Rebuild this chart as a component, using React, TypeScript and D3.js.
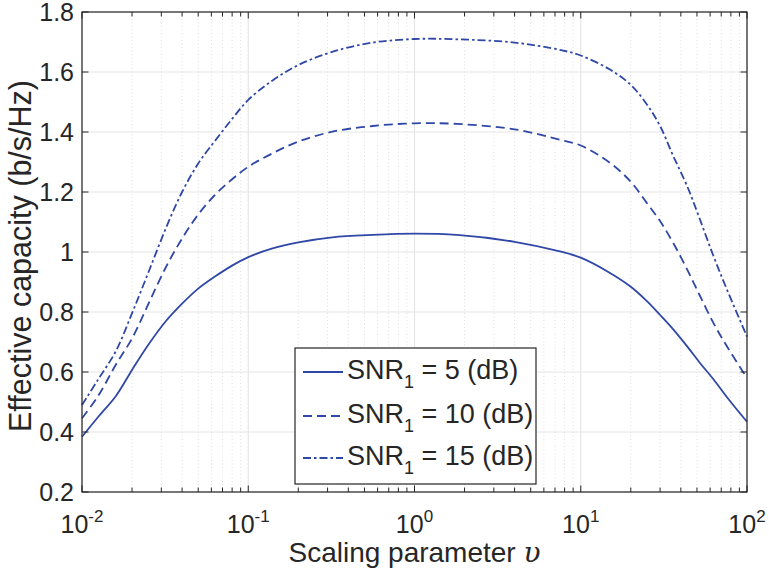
import React from 'react';
import * as d3 from 'd3';

// scaling parameter values (log axis)
const xValues = [0.01, 0.0125, 0.016, 0.02, 0.025, 0.032, 0.04, 0.05, 0.063, 0.079, 0.1, 0.14, 0.2, 0.32, 0.56, 1, 1.8, 4, 7.6, 10, 15, 20, 25, 30, 36, 44, 52, 63, 76, 100];

const snr5 = [0.384, 0.45, 0.52, 0.607, 0.69, 0.77, 0.828, 0.878, 0.918, 0.953, 0.983, 1.012, 1.032, 1.049, 1.057, 1.061, 1.057, 1.034, 1.001, 0.981, 0.93, 0.884, 0.836, 0.79, 0.742, 0.683, 0.631, 0.575, 0.515, 0.434];
const snr10 = [0.446, 0.52, 0.625, 0.712, 0.825, 0.95, 1.045, 1.125, 1.19, 1.24, 1.284, 1.329, 1.368, 1.401, 1.42, 1.429, 1.427, 1.409, 1.373, 1.355, 1.297, 1.234, 1.163, 1.103, 1.03, 0.938, 0.855, 0.762, 0.684, 0.58];
const snr15 = [0.49, 0.575, 0.67, 0.796, 0.93, 1.08, 1.2, 1.295, 1.37, 1.44, 1.507, 1.572, 1.623, 1.667, 1.698, 1.71, 1.709, 1.698, 1.673, 1.655, 1.608, 1.557, 1.492, 1.42, 1.32, 1.215, 1.11, 0.985, 0.873, 0.718];

const seriesNames = ['5', '10', '15'];
const yTicks = [0.2, 0.4, 0.6, 0.8, 1, 1.2, 1.4, 1.6, 1.8];
const xDecades = [-2, -1, 0, 1, 2];

const W = 769;
const H = 577;
const left = 82;
const right = 747;
const top = 12;
const bottom = 492;

const blue = '#2f47a6';
const axisColor = '#262626';
const font = 'Liberation Sans, Arial, Helvetica, sans-serif';
const dashes = [null, '9,5', '8,3,2.5,3'];

export default function App() {
  const x = d3.scaleLog().domain([0.01, 100]).range([left, right]);
  const y = d3.scaleLinear().domain([0.2, 1.8]).range([bottom, top]);

  const line = d3.line<number>()
    .x((_, i) => x(xValues[i]))
    .y(d => y(d))
    .curve(d3.curveCatmullRom.alpha(0.5));

  // minor ticks 2..9 in each decade
  const minor: number[] = [];
  for (let e = -2; e < 2; e++) {
    for (let k = 2; k <= 9; k++) minor.push(k * Math.pow(10, e));
  }

  const series = [snr5, snr10, snr15];

  const legX = 295, legY = 348, legW = 241, legH = 136;
  const rows = [372, 416, 458];

  return (
    <svg width={W} height={H} style={{ position: 'absolute', left: 0, top: 0, background: '#fff' }} fontFamily={font}>
      <rect x={0} y={0} width={W} height={H} fill="#fff" />
      {/* grid */}
      {minor.map(v => (
        <line key={'mg' + v} x1={x(v)} x2={x(v)} y1={top} y2={bottom} stroke="#dedede" strokeWidth={1} strokeDasharray="1,2.5" />
      ))}
      {xDecades.map(e => (
        <line key={'xg' + e} x1={x(Math.pow(10, e))} x2={x(Math.pow(10, e))} y1={top} y2={bottom} stroke="#e6e6e6" strokeWidth={1.2} />
      ))}
      {yTicks.map(v => (
        <line key={'yg' + v} x1={left} x2={right} y1={y(v)} y2={y(v)} stroke="#e6e6e6" strokeWidth={1.2} />
      ))}

      {/* curves */}
      {series.map((s, i) => (
        <path key={'s' + i} d={line(s) || ''} fill="none" stroke={blue} strokeWidth={1.8}
          strokeDasharray={dashes[i] || undefined} />
      ))}

      {/* ticks */}
      {minor.map(v => (
        <g key={'mt' + v}>
          <line x1={x(v)} x2={x(v)} y1={bottom} y2={bottom - 4.5} stroke={axisColor} />
          <line x1={x(v)} x2={x(v)} y1={top} y2={top + 4.5} stroke={axisColor} />
        </g>
      ))}
      {xDecades.map(e => (
        <g key={'xt' + e}>
          <line x1={x(Math.pow(10, e))} x2={x(Math.pow(10, e))} y1={bottom} y2={bottom - 6.5} stroke={axisColor} />
          <line x1={x(Math.pow(10, e))} x2={x(Math.pow(10, e))} y1={top} y2={top + 6.5} stroke={axisColor} />
          <text x={x(Math.pow(10, e))} y={533} textAnchor="middle" fontSize={25} fill={axisColor}>
            10<tspan fontSize={17} dy={-11}>{String(e)}</tspan>
          </text>
        </g>
      ))}
      {yTicks.map(v => (
        <g key={'yt' + v}>
          <line x1={left} x2={left + 6.5} y1={y(v)} y2={y(v)} stroke={axisColor} />
          <line x1={right} x2={right - 6.5} y1={y(v)} y2={y(v)} stroke={axisColor} />
          <text x={74} y={y(v)} dy="0.35em" textAnchor="end" fontSize={25} fill={axisColor}>
            {d3.format('')(v)}
          </text>
        </g>
      ))}

      {/* axes box */}
      <rect x={left} y={top} width={right - left} height={bottom - top} fill="none" stroke={axisColor} strokeWidth={1.2} />

      {/* labels */}
      <text x={(left + right) / 2} y={562} textAnchor="middle" fontSize={28} fill={axisColor}>
        Scaling parameter <tspan fontFamily="DejaVu Serif, serif" fontStyle="italic">υ</tspan>
      </text>
      <text transform={`translate(31,256) rotate(-90)`} textAnchor="middle" fontSize={30.5} fill={axisColor}>
        Effective capacity (b/s/Hz)
      </text>

      {/* legend */}
      <rect x={legX} y={legY} width={legW} height={legH} fill="#fff" stroke={axisColor} strokeWidth={1.2} />
      {seriesNames.map((n, i) => (
        <g key={'lg' + i}>
          <line x1={303} x2={343} y1={rows[i]} y2={rows[i]} stroke={blue} strokeWidth={1.8}
            strokeDasharray={dashes[i] || undefined} />
          <text x={347} y={rows[i] + 7} fontSize={27} fill={axisColor}>
            SNR<tspan fontSize={18} dy={9}>1</tspan><tspan dy={-9}>{` = ${n} (dB)`}</tspan>
          </text>
        </g>
      ))}
    </svg>
  );
}
